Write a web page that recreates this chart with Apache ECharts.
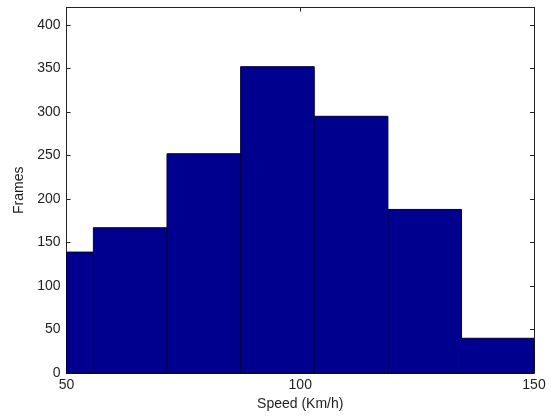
<!DOCTYPE html>
<html>
<head>
<meta charset="utf-8">
<script src="https://cdn.jsdelivr.net/npm/echarts@6/dist/echarts.min.js"></script>
<style>html,body{margin:0;padding:0;background:#fff;}#c{width:551px;height:416px;}</style>
</head>
<body>
<div id="c"></div>
<script>
// Histogram bin edges (km/h) and counts
var binEdges = [40, 55.75, 71.5, 87.25, 103, 118.75, 134.5, 150.25];
var frameCounts = [139, 167, 252, 352, 295, 188, 40];
var xTicks = [50, 100, 150];
var yTicks = [0, 50, 100, 150, 200, 250, 300, 350, 400];

var bins = frameCounts.map(function (c, i) { return [binEdges[i], binEdges[i + 1], c]; });

var chart = echarts.init(document.getElementById('c'), null, { renderer: 'canvas' });
var font = 'Liberation Sans, Arial, Helvetica, sans-serif';
var txt = '#1f1f1f';
var fs = 14;

chart.setOption({
  animation: false,
  backgroundColor: '#fff',
  grid: { left: 66.5, right: 17, top: 7.5, bottom: 39.5, containLabel: false },
  xAxis: [{
    type: 'value', min: 50, max: 150, interval: 50, position: 'bottom',
    name: 'Speed (Km/h)', nameLocation: 'middle', nameGap: 23,
    nameTextStyle: { fontFamily: font, fontSize: fs, color: txt },
    axisLine: { show: true, onZero: false, lineStyle: { color: '#222', width: 1 } },
    axisTick: { show: true, inside: true, length: 4, lineStyle: { color: '#222' } },
    axisLabel: { fontFamily: font, fontSize: fs, color: txt, margin: 5 },
    splitLine: { show: false }
  }, {
    type: 'value', min: 50, max: 150, interval: 50, position: 'top',
    axisLine: { show: true, onZero: false, lineStyle: { color: '#222', width: 1 } },
    axisTick: { show: true, inside: true, length: 4, lineStyle: { color: '#222' } },
    axisLabel: { show: false }, splitLine: { show: false }
  }],
  yAxis: [{
    type: 'value', min: 0, max: 420, interval: 50, position: 'left',
    name: 'Frames', nameLocation: 'middle', nameGap: 37,
    nameTextStyle: { fontFamily: font, fontSize: fs, color: txt },
    axisLine: { show: true, onZero: false, lineStyle: { color: '#222', width: 1 } },
    axisTick: { show: true, inside: true, length: 4, lineStyle: { color: '#222' } },
    axisLabel: { fontFamily: font, fontSize: fs, color: txt, margin: 6, showMaxLabel: false },
    splitLine: { show: false }
  }, {
    type: 'value', min: 0, max: 420, interval: 50, position: 'right',
    axisLine: { show: true, onZero: false, lineStyle: { color: '#222', width: 1 } },
    axisTick: { show: true, inside: true, length: 4, lineStyle: { color: '#222' } },
    axisLabel: { show: false }, splitLine: { show: false }
  }],
  series: [{
    type: 'custom',
    xAxisIndex: 0, yAxisIndex: 0,
    data: bins,
    z: 1,
    renderItem: function (params, api) {
      var p0 = api.coord([api.value(0), 0]);
      var p1 = api.coord([api.value(1), api.value(2)]);
      var cs = params.coordSys;
      var x0 = Math.max(p0[0], cs.x);
      var x1 = Math.min(p1[0], cs.x + cs.width);
      return {
        type: 'rect',
        shape: { x: x0, y: p1[1], width: x1 - x0, height: p0[1] - p1[1] },
        style: { fill: '#00008f', stroke: '#00003a', lineWidth: 1 }
      };
    }
  }]
});
</script>
</body>
</html>
